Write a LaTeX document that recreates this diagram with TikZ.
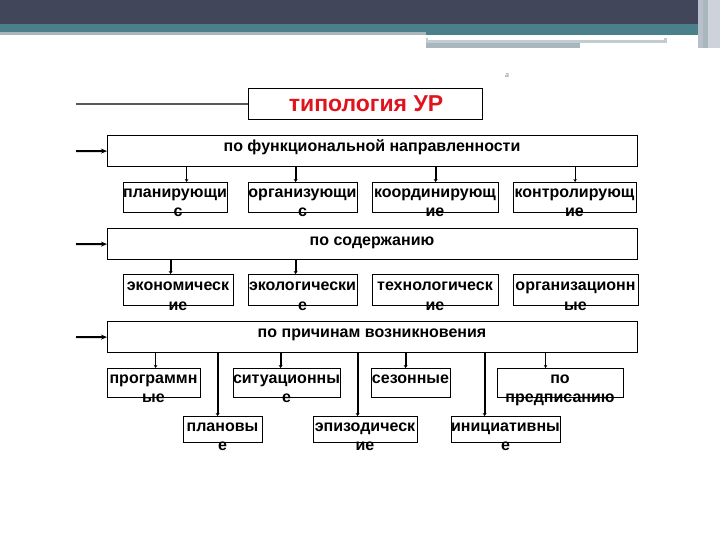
\documentclass[tikz,border=0pt]{standalone}
\usepackage{fontspec}
\setmainfont{Liberation Sans}
\usetikzlibrary{arrows.meta}
\definecolor{bandDark}{HTML}{41465A}
\definecolor{bandTeal}{HTML}{4A8089}
\definecolor{bandGray}{HTML}{A7B7BC}
\definecolor{edgeGray}{HTML}{B9C0CC}
\definecolor{titleRed}{HTML}{E0141E}
\begin{document}
\begin{tikzpicture}[x=1pt,y=-1pt,
  box/.style={draw, line width=1.2pt, inner sep=0pt, anchor=north west},
  lbl/.style={font=\fontsize{16}{20}\selectfont\bfseries, inner sep=0pt, anchor=base},
  feed/.style={line width=2pt, -{Stealth[length=6pt,width=5pt]}},
  br/.style={line width=2pt, -{Stealth[length=3pt,width=4pt]}},
  brthin/.style={line width=1pt, -{Stealth[length=3pt,width=3.5pt]}}]
\useasboundingbox (0,0) rectangle (720,540);
% banner
\fill[bandDark] (0,0) rectangle (720,24);
\fill[bandTeal] (0,24) rectangle (720,32);
\fill[bandGray] (0,32) rectangle (426,35);
\fill[bandTeal] (426,32) rectangle (705,35);
\fill[bandGray!70] (426,38) rectangle (667,43);
\fill[white] (428,38) rectangle (664,40);
\fill[bandGray] (426,43) rectangle (580,48);
\fill[edgeGray] (698,0) rectangle (703,48);
\fill[bandGray] (703,0) rectangle (708,48);
\fill[edgeGray!70] (708,0) rectangle (720,48);
\node[font=\fontsize{7}{8}\selectfont\itshape, text=gray] (mark) at (507,76) {a};
% title
\node[box, minimum width=234pt, minimum height=31pt] (title) at (248,88) {};
\node[font=\fontsize{23}{26}\selectfont\bfseries, text=titleRed, inner sep=0pt, anchor=base] (titletext) at (366,112) {типология УР};
\coordinate (t0) at (76,104);
\draw[line width=1.2pt] (t0) -- (title.west);
% main boxes
\node[box, minimum width=530pt, minimum height=31pt] (b1) at (107,135) {};
\node[box, minimum width=530pt, minimum height=31pt] (b2) at (107,228) {};
\node[box, minimum width=530pt, minimum height=31pt] (b3) at (107,321) {};
\node[lbl] (b1t) at (372,152) {по функциональной направленности};
\node[lbl] (b2t) at (372,245) {по содержанию};
\node[lbl] (b3t) at (372,337) {по причинам возникновения};
\coordinate (f1) at (76,151);
\coordinate (f2) at (76,244);
\coordinate (f3) at (76,337);
\draw[feed] (f1) -- (b1.west);
\draw[feed] (f2) -- (b2.west);
\draw[feed] (f3) -- (b3.west);
% row 1
\node[box, minimum width=104pt, minimum height=30pt] (A) at (123,182) {};
\node[box, minimum width=109pt, minimum height=30pt] (B) at (248,182) {};
\node[box, minimum width=126pt, minimum height=30pt] (C) at (372,182) {};
\node[box, minimum width=123pt, minimum height=30pt] (D) at (513,182) {};
\node[lbl] (A1) at (175,197) {планирующи};
\node[lbl] (A2) at (178,217) {с};
\node[lbl] (B1) at (302.5,197) {организующи};
\node[lbl] (B2) at (302.5,217) {с};
\node[lbl] (C1) at (435,197) {координирующ};
\node[lbl] (C2) at (435,217) {ие};
\node[lbl] (D1) at (574.5,197) {контролирующ};
\node[lbl] (D2) at (574.5,217) {ие};
\draw[brthin] ([xshift=11pt]A.north |- b1.south) -- ([xshift=11pt]A.north);
\draw[br] ([xshift=-7.5pt]B.north |- b1.south) -- ([xshift=-7.5pt]B.north);
\draw[br] (C.north |- b1.south) -- (C.north);
\draw[brthin] (D.north |- b1.south) -- (D.north);
% row 2
\node[box, minimum width=110pt, minimum height=31pt] (E) at (123,274) {};
\node[box, minimum width=109pt, minimum height=31pt] (F) at (248,274) {};
\node[box, minimum width=126pt, minimum height=31pt] (G) at (372,274) {};
\node[box, minimum width=125pt, minimum height=31pt] (H) at (513,274) {};
\node[lbl] (E1) at (178,290) {экономическ};
\node[lbl] (E2) at (178,310) {ие};
\node[lbl] (F1) at (302.5,290) {экологически};
\node[lbl] (F2) at (302.5,310) {е};
\node[lbl] (G1) at (435,290) {технологическ};
\node[lbl] (G2) at (435,310) {ие};
\node[lbl] (H1) at (575.5,290) {организационн};
\node[lbl] (H2) at (575.5,310) {ые};
\draw[br] ([xshift=-8pt]E.north |- b2.south) -- ([xshift=-8pt]E.north);
\draw[br] ([xshift=-7.5pt]F.north |- b2.south) -- ([xshift=-7.5pt]F.north);
% row 3
\node[box, minimum width=93pt, minimum height=29pt] (I) at (107,368) {};
\node[box, minimum width=107pt, minimum height=29pt] (J) at (233,368) {};
\node[box, minimum width=79pt, minimum height=29pt] (K) at (371,368) {};
\node[box, minimum width=126pt, minimum height=29pt] (L) at (497,368) {};
\node[lbl] (I1) at (153.5,383) {программн};
\node[lbl] (I2) at (153.5,402) {ые};
\node[lbl] (J1) at (286.5,383) {ситуационны};
\node[lbl] (J2) at (286.5,402) {е};
\node[lbl] (K1) at (410.5,383) {сезонные};
\node[lbl] (L1) at (560,383) {по};
\node[lbl] (L2) at (560,402) {предписанию};
% row 4
\node[box, minimum width=79pt, minimum height=26pt] (M) at (183,416) {};
\node[box, minimum width=104pt, minimum height=26pt] (N) at (313,416) {};
\node[box, minimum width=109pt, minimum height=26pt] (O) at (451,416) {};
\node[lbl] (M1) at (222.5,431) {плановы};
\node[lbl] (M2) at (222.5,450) {е};
\node[lbl] (N1) at (365,431) {эпизодическ};
\node[lbl] (N2) at (365,450) {ие};
\node[lbl] (O1) at (505.5,431) {инициативны};
\node[lbl] (O2) at (505.5,450) {е};
% row 3/4 connectors
\draw[brthin] ([xshift=1.5pt]I.north |- b3.south) -- ([xshift=1.5pt]I.north);
\draw[br] ([xshift=-5.5pt]M.north |- b3.south) -- ([xshift=-5.5pt]M.north);
\draw[br] ([xshift=-6.5pt]J.north |- b3.south) -- ([xshift=-6.5pt]J.north);
\draw[br] ([xshift=-8pt]N.north |- b3.south) -- ([xshift=-8pt]N.north);
\draw[br] ([xshift=-5.5pt]K.north |- b3.south) -- ([xshift=-5.5pt]K.north);
\draw[br] ([xshift=-21.5pt]O.north |- b3.south) -- ([xshift=-21.5pt]O.north);
\draw[brthin] ([xshift=-15pt]L.north |- b3.south) -- ([xshift=-15pt]L.north);
\end{tikzpicture}
\end{document}
